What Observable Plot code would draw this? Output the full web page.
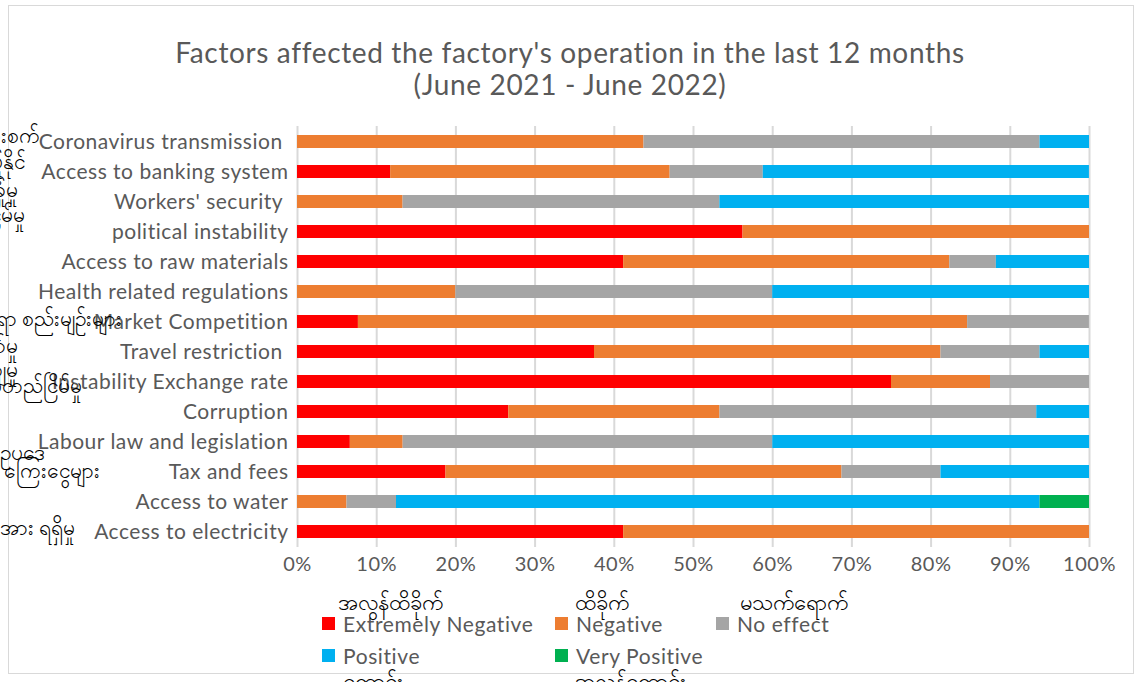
<!DOCTYPE html>
<html>
<head>
<meta charset="utf-8">
<script src="https://cdn.jsdelivr.net/npm/d3@7"></script>
<script src="https://cdn.jsdelivr.net/npm/@observablehq/plot@0.6"></script>
<style>
  html, body { margin: 0; padding: 0; background: #fff; overflow: hidden; }
  #wrap { position: relative; width: 1134px; height: 682px; overflow: hidden; font-family: Lato, "Open Sans", sans-serif; }
  #frame { position: absolute; left: 8px; top: 5px; width: 1126px; height: 669px; border: 1px solid #d9d9d9; box-sizing: border-box; }
  #chart { position: absolute; left: 0; top: 0; }
  #chart svg text { letter-spacing: 0.5px; }
  .title { position: absolute; left: 0; width: 1140px; text-align: center; color: #595959; font-size: 28px; letter-spacing: 0.65px; white-space: nowrap; line-height: 1.15; }
  .mm { position: absolute; color: #000; font-size: 21px; white-space: nowrap; line-height: 1; }
  .leg { position: absolute; color: #595959; font-size: 21px; letter-spacing: 0.6px; white-space: nowrap; line-height: 1; }
  .sw { position: absolute; width: 13px; height: 13px; }
</style>
</head>
<body>
<div id="wrap">
  <div id="frame"></div>
  <div id="chart"></div>
</div>
<script>
// ---- data ----
const categories = [
  "Coronavirus transmission ",
  "Access to banking system",
  "Workers' security ",
  "political instability",
  "Access to raw materials",
  "Health related regulations",
  "Market Competition",
  "Travel restriction ",
  "Instability Exchange rate",
  "Corruption",
  "Labour law and legislation",
  "Tax and fees",
  "Access to water",
  "Access to electricity"
];
const seriesNames = ["Extremely Negative", "Negative", "No effect", "Positive", "Very Positive"];
const seriesMyanmar = ["အလွန်ထိခိုက်", "ထိခိုက်", "မသက်ရောက်", "ကောင်း", "အလွန်ကောင်း"];
const seriesColors = ["#FF0000", "#ED7D31", "#A5A5A5", "#00B0F0", "#00B050"];

const extremelyNegative = [0, 11.76, 0, 56.25, 41.18, 0, 7.69, 37.5, 75, 26.67, 6.67, 18.75, 0, 41.18];
const negative          = [43.75, 35.29, 13.33, 43.75, 41.18, 20, 76.92, 43.75, 12.5, 26.67, 6.67, 50, 6.25, 58.82];
const noEffect          = [50, 11.76, 40, 0, 5.88, 40, 15.38, 12.5, 12.5, 40, 46.67, 12.5, 6.25, 0];
const positive          = [6.25, 41.18, 46.67, 0, 11.76, 40, 0, 6.25, 0, 6.67, 40, 18.75, 81.25, 0];
const veryPositive      = [0, 0, 0, 0, 0, 0, 0, 0, 0, 0, 0, 0, 6.25, 0];

const xTicks = [0, 10, 20, 30, 40, 50, 60, 70, 80, 90, 100];

const myanmarCategoryLabels = [
  "ကိုဗစ်ကူးစက်",
  "ဘဏ်စနစ်ကို အသုံးပြုနိုင်",
  "အလုပ်သမား လုံခြုံမှု",
  "နိုင်ငံရေး မတည်ငြိမ်မှု",
  "ကျန်းမာရေးဆိုင်ရာ စည်းမျဉ်းများ",
  "ခရီးသွားလာမှု ကန့်သတ်မှု",
  "ငွေလဲနှုန်း အတက်အကျမှု",
  "ငွေလဲနှုန်း မတည်ငြိမ်မှု",
  "အလုပ်သမားဥပဒေ",
  "အခွန်နှင့် ကြေးငွေများ",
  "လျှပ်စစ်ဓာတ်အား ရရှိမှု"
];

// ---- build table ----
const seriesValues = [extremelyNegative, negative, noEffect, positive, veryPositive];
const rows = [];
seriesNames.forEach((s, si) => {
  categories.forEach((c, ci) => rows.push({category: c, series: s, value: seriesValues[si][ci]}));
});

const chart = Plot.plot({
  width: 1134,
  height: 682,
  marginLeft: 297,
  marginRight: 45,
  marginTop: 126,
  marginBottom: 135,
  style: {fontFamily: "Lato, 'Open Sans', sans-serif", fontSize: "21px", color: "#595959", background: "transparent"},
  x: {domain: [0, 100]},
  y: {domain: categories, paddingInner: 0.57, paddingOuter: 0.29},
  color: {domain: seriesNames, range: seriesColors},
  marks: [
    Plot.ruleX(xTicks, {stroke: "#d9d9d9", strokeWidth: 2}),
    Plot.barX(rows, {x: "value", y: "category", fill: "series"}),
    Plot.axisX({ticks: xTicks, tickSize: 0, tickPadding: 9, tickFormat: d => d + "%", label: null, fill: "#595959", fontSize: 20}),
    Plot.axisY({tickSize: 0, tickPadding: 9, label: null, fill: "#595959", fontSize: 21, tickFormat: d => d.replace(/ $/, "\u00a0")})
  ]
});
document.getElementById("chart").appendChild(chart);

const wrap = document.getElementById("wrap");
function addDiv(cls, text, css) {
  const d = document.createElement("div");
  d.className = cls;
  if (text != null) d.textContent = text;
  Object.assign(d.style, css);
  wrap.appendChild(d);
  return d;
}

// title
addDiv("title", "Factors affected the factory's operation in the last 12 months", {top: "36px"});
addDiv("title", "(June 2021 - June 2022)", {top: "68px"});

// Myanmar category overlay (clipped at left edge)
const mmPos = [[40, 124], [25, 150], [18, 178], [25, 203], [122, 307], [18, 334], [18, 358], [82, 374], [45, 441], [100, 459], [75, 516]];
myanmarCategoryLabels.forEach((t, i) => {
  const [r, y] = mmPos[i];
  addDiv("mm", t, {right: (1134 - r) + "px", top: y + "px"});
});

// legend
const legPos = [[322, 617], [555, 617], [716, 617], [322, 649], [555, 649]];
seriesNames.forEach((s, i) => {
  const [x, y] = legPos[i];
  addDiv("sw", null, {left: x + "px", top: y + "px", background: seriesColors[i]});
  addDiv("leg", s, {left: (x + 21) + "px", top: (y - 4) + "px"});
});
const mmLegPos = [[338, 591], [575, 591], [740, 591], [343, 670], [575, 670]];
seriesMyanmar.forEach((t, i) => {
  const [x, y] = mmLegPos[i];
  addDiv("mm", t, {left: x + "px", top: y + "px", fontSize: "22px"});
});
</script>
</body>
</html>
